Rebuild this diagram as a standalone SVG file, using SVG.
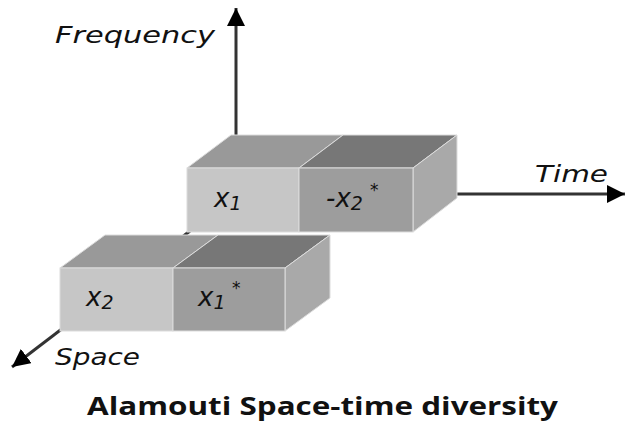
<svg xmlns="http://www.w3.org/2000/svg" width="625" height="424" viewBox="0 0 625 424">
<style>
.ax{stroke:#333;stroke-width:3;fill:none}
.lbl{font-family:"DejaVu Sans",Verdana,sans-serif;font-style:italic;font-size:23px;fill:#111}
.var{font-family:"DejaVu Sans",Verdana,sans-serif;font-style:italic;font-size:26px;fill:#111}
.sub{font-size:19px}
.sup{font-family:"DejaVu Sans",sans-serif;font-size:17px;fill:#111}
.title{font-family:"Open Sans","Liberation Sans",sans-serif;font-weight:bold;font-size:25px;fill:#111}
.fl{fill:#c6c6c6}
.fr{fill:#9d9d9d}
.tl{fill:#999999}
.tr{fill:#777777}
.sd{fill:#a9a9a9}
.edge{stroke:#dcdcdc;stroke-width:1}
</style>
<defs>
<marker id="ah" viewBox="0 0 18 18" refX="18" refY="9" markerWidth="18" markerHeight="18" orient="auto" markerUnits="userSpaceOnUse">
<path d="M0,0 L18,9 L0,18 Z" fill="#000"/>
</marker>
</defs>
<g id="connectors">
<path class="ax" d="M236,136 V8" marker-end="url(#ah)"/>
<path class="ax" d="M457,194 H625" marker-end="url(#ah)"/>
<path class="ax" d="M190,231 L12,367" marker-end="url(#ah)"/>
</g>
<g id="block-top" class="edge">
<polygon class="tl" points="187,168 231,135 343,135 299,168"/>
<polygon class="tr" points="299,168 343,135 457,135 413,168"/>
<polygon class="sd" points="413,168 457,135 457,198 413,232"/>
<rect class="fl" x="187" y="168" width="112" height="64"/>
<rect class="fr" x="299" y="168" width="114" height="64"/>
</g>
<g id="block-bottom" class="edge">
<polygon class="tl" points="60,268 105,235 218,235 173,268"/>
<polygon class="tr" points="173,268 218,235 330,235 285,268"/>
<polygon class="sd" points="285,268 330,235 330,298 285,331"/>
<rect class="fl" x="60" y="268" width="113" height="63"/>
<rect class="fr" x="173" y="268" width="112" height="63"/>
</g>
<g id="cell-x1">
<text class="var" x="214" y="207">x<tspan class="sub" dy="3">1</tspan></text>
</g>
<g id="cell-mx2">
<text class="var" x="326" y="207">-x<tspan class="sub" dy="3">2</tspan></text>
<text class="sup" x="370" y="196">*</text>
</g>
<g id="cell-x2">
<text class="var" x="86" y="306">x<tspan class="sub" dy="3">2</tspan></text>
</g>
<g id="cell-x1s">
<text class="var" x="198" y="306">x<tspan class="sub" dy="3">1</tspan></text>
<text class="sup" x="232" y="294">*</text>
</g>
<g id="labels">
<text class="lbl" x="55" y="43" textLength="160" lengthAdjust="spacingAndGlyphs">Frequency</text>
<text class="lbl" x="535" y="182" textLength="73" lengthAdjust="spacingAndGlyphs">Time</text>
<text class="lbl" x="55" y="365" textLength="85" lengthAdjust="spacingAndGlyphs">Space</text>
<text class="title" x="87" y="415" textLength="471" lengthAdjust="spacingAndGlyphs">Alamouti Space-time diversity</text>
</g>
</svg>
